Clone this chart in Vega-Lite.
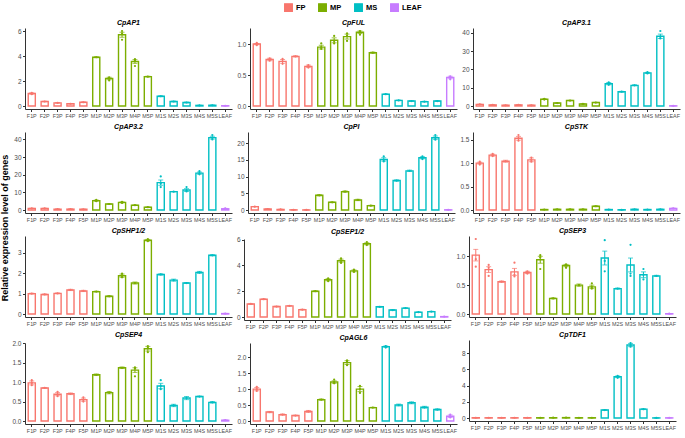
{
"$schema": "https://vega.github.io/schema/vega-lite/v6.json",
"background": "white",
"padding": {"left": 0, "top": 3, "right": 1, "bottom": 1},
"config": {
 "view": {"stroke": null},
 "font": "Liberation Sans",
 "axis": {"labelFontSize": 6.5, "labelColor": "#4d4d4d", "domainColor": "#333333", "tickColor": "#333333", "tickSize": 2.5, "grid": false, "title": null, "labelPadding": 1.5},
 "header": {"labelFontStyle": "italic", "labelFontWeight": "bold", "labelFontSize": 7, "labelPadding": 2, "labelColor": "black"}
},
"spacing": 1,
"hconcat": [
 {
  "data": {"values": [{"t": "Relative expression level of genes"}]},
  "width": 7, "height": 400,
  "mark": {"type": "text", "angle": 270, "fontSize": 9, "fontWeight": "bold", "color": "black"},
  "encoding": {"text": {"field": "t"}}
 },
 {
  "data": {"values": [
{"g":"CpAP1","s":"F1P","grp":"FP","m":1.0,"e":0.05,"p":[1.05,0.98,0.95]},
{"g":"CpAP1","s":"F2P","grp":"FP","m":0.36,"e":0.02,"p":[0.36]},
{"g":"CpAP1","s":"F3P","grp":"FP","m":0.25,"e":0.02,"p":[0.25]},
{"g":"CpAP1","s":"F4P","grp":"FP","m":0.18,"e":0.02,"p":[0.18]},
{"g":"CpAP1","s":"F5P","grp":"FP","m":0.3,"e":0.03,"p":[0.3]},
{"g":"CpAP1","s":"M1P","grp":"MP","m":3.9,"e":0.04,"p":[3.9]},
{"g":"CpAP1","s":"M2P","grp":"MP","m":2.2,"e":0.1,"p":[2.3,2.2,2.05]},
{"g":"CpAP1","s":"M3P","grp":"MP","m":5.7,"e":0.2,"p":[6.0,5.8,5.3]},
{"g":"CpAP1","s":"M4P","grp":"MP","m":3.56,"e":0.15,"p":[3.75,3.65,3.2]},
{"g":"CpAP1","s":"M5P","grp":"MP","m":2.35,"e":0.03,"p":[2.35]},
{"g":"CpAP1","s":"M1S","grp":"MS","m":0.78,"e":0.04,"p":[0.78]},
{"g":"CpAP1","s":"M2S","grp":"MS","m":0.36,"e":0.03,"p":[0.36]},
{"g":"CpAP1","s":"M3S","grp":"MS","m":0.28,"e":0.03,"p":[0.28]},
{"g":"CpAP1","s":"M4S","grp":"MS","m":0.05,"e":0.01,"p":[0.05]},
{"g":"CpAP1","s":"M5S","grp":"MS","m":0.06,"e":0.01,"p":[0.06]},
{"g":"CpAP1","s":"LEAF","grp":"LEAF","m":0.02,"e":0.01,"p":[0.02]},

{"g":"CpFUL","s":"F1P","grp":"FP","m":1.0,"e":0.01,"p":[1.02,1.0,0.98]},
{"g":"CpFUL","s":"F2P","grp":"FP","m":0.75,"e":0.02,"p":[0.77,0.75,0.73]},
{"g":"CpFUL","s":"F3P","grp":"FP","m":0.72,"e":0.03,"p":[0.76,0.72,0.68]},
{"g":"CpFUL","s":"F4P","grp":"FP","m":0.8,"e":0.01,"p":[0.8]},
{"g":"CpFUL","s":"F5P","grp":"FP","m":0.64,"e":0.02,"p":[0.66,0.64,0.62]},
{"g":"CpFUL","s":"M1P","grp":"MP","m":0.95,"e":0.03,"p":[1.01,0.95,0.92]},
{"g":"CpFUL","s":"M2P","grp":"MP","m":1.06,"e":0.04,"p":[1.13,1.05,1.01]},
{"g":"CpFUL","s":"M3P","grp":"MP","m":1.12,"e":0.04,"p":[1.17,1.13,1.05]},
{"g":"CpFUL","s":"M4P","grp":"MP","m":1.19,"e":0.02,"p":[1.21,1.2,1.15]},
{"g":"CpFUL","s":"M5P","grp":"MP","m":0.86,"e":0.01,"p":[0.86]},
{"g":"CpFUL","s":"M1S","grp":"MS","m":0.19,"e":0.005,"p":[0.19]},
{"g":"CpFUL","s":"M2S","grp":"MS","m":0.09,"e":0.005,"p":[0.09]},
{"g":"CpFUL","s":"M3S","grp":"MS","m":0.08,"e":0.005,"p":[0.08]},
{"g":"CpFUL","s":"M4S","grp":"MS","m":0.07,"e":0.005,"p":[0.07]},
{"g":"CpFUL","s":"M5S","grp":"MS","m":0.08,"e":0.005,"p":[0.08]},
{"g":"CpFUL","s":"LEAF","grp":"LEAF","m":0.46,"e":0.02,"p":[0.48,0.46,0.43]},

{"g":"CpAP3.1","s":"F1P","grp":"FP","m":0.9,"e":0.1,"p":[0.9]},
{"g":"CpAP3.1","s":"F2P","grp":"FP","m":0.6,"e":0.05,"p":[0.6]},
{"g":"CpAP3.1","s":"F3P","grp":"FP","m":0.4,"e":0.05,"p":[0.4]},
{"g":"CpAP3.1","s":"F4P","grp":"FP","m":0.6,"e":0.05,"p":[0.6]},
{"g":"CpAP3.1","s":"F5P","grp":"FP","m":0.4,"e":0.05,"p":[0.4]},
{"g":"CpAP3.1","s":"M1P","grp":"MP","m":3.7,"e":0.15,"p":[3.9,3.7,3.5]},
{"g":"CpAP3.1","s":"M2P","grp":"MP","m":1.6,"e":0.1,"p":[1.6]},
{"g":"CpAP3.1","s":"M3P","grp":"MP","m":3.0,"e":0.1,"p":[3.0]},
{"g":"CpAP3.1","s":"M4P","grp":"MP","m":1.1,"e":0.1,"p":[1.1]},
{"g":"CpAP3.1","s":"M5P","grp":"MP","m":1.9,"e":0.1,"p":[1.9]},
{"g":"CpAP3.1","s":"M1S","grp":"MS","m":12.2,"e":0.6,"p":[12.9,12.2,11.6]},
{"g":"CpAP3.1","s":"M2S","grp":"MS","m":7.8,"e":0.2,"p":[7.8]},
{"g":"CpAP3.1","s":"M3S","grp":"MS","m":11.3,"e":0.3,"p":[11.3]},
{"g":"CpAP3.1","s":"M4S","grp":"MS","m":18.1,"e":0.3,"p":[18.5,18.1,17.8]},
{"g":"CpAP3.1","s":"M5S","grp":"MS","m":38.1,"e":1.2,"p":[41.0,37.8,36.9]},
{"g":"CpAP3.1","s":"LEAF","grp":"LEAF","m":0.1,"e":0.02,"p":[0.1]},

{"g":"CpAP3.2","s":"F1P","grp":"FP","m":0.9,"e":0.1,"p":[0.9]},
{"g":"CpAP3.2","s":"F2P","grp":"FP","m":0.9,"e":0.1,"p":[0.9]},
{"g":"CpAP3.2","s":"F3P","grp":"FP","m":0.5,"e":0.05,"p":[0.5]},
{"g":"CpAP3.2","s":"F4P","grp":"FP","m":0.5,"e":0.05,"p":[0.5]},
{"g":"CpAP3.2","s":"F5P","grp":"FP","m":0.4,"e":0.05,"p":[0.4]},
{"g":"CpAP3.2","s":"M1P","grp":"MP","m":5.3,"e":0.3,"p":[5.7,5.3,5.0]},
{"g":"CpAP3.2","s":"M2P","grp":"MP","m":3.4,"e":0.1,"p":[3.4]},
{"g":"CpAP3.2","s":"M3P","grp":"MP","m":4.3,"e":0.3,"p":[4.6,4.3,4.0]},
{"g":"CpAP3.2","s":"M4P","grp":"MP","m":2.7,"e":0.15,"p":[2.7]},
{"g":"CpAP3.2","s":"M5P","grp":"MP","m":1.6,"e":0.1,"p":[1.6]},
{"g":"CpAP3.2","s":"M1S","grp":"MS","m":15.5,"e":1.5,"p":[19.0,15.0,13.0]},
{"g":"CpAP3.2","s":"M2S","grp":"MS","m":10.4,"e":0.1,"p":[10.4]},
{"g":"CpAP3.2","s":"M3S","grp":"MS","m":11.3,"e":0.8,"p":[13.0,11.0,10.5]},
{"g":"CpAP3.2","s":"M4S","grp":"MS","m":20.9,"e":0.6,"p":[22.0,20.8,20.2]},
{"g":"CpAP3.2","s":"M5S","grp":"MS","m":41.0,"e":0.8,"p":[42.5,40.9,40.0]},
{"g":"CpAP3.2","s":"LEAF","grp":"LEAF","m":0.7,"e":0.2,"p":[0.9,0.7,0.5]},

{"g":"CpPI","s":"F1P","grp":"FP","m":1.0,"e":0.05,"p":[1.0]},
{"g":"CpPI","s":"F2P","grp":"FP","m":0.3,"e":0.03,"p":[0.3]},
{"g":"CpPI","s":"F3P","grp":"FP","m":0.2,"e":0.02,"p":[0.2]},
{"g":"CpPI","s":"F4P","grp":"FP","m":0.05,"e":0.01,"p":[0.05]},
{"g":"CpPI","s":"F5P","grp":"FP","m":0.05,"e":0.01,"p":[0.05]},
{"g":"CpPI","s":"M1P","grp":"MP","m":4.4,"e":0.2,"p":[4.4]},
{"g":"CpPI","s":"M2P","grp":"MP","m":2.3,"e":0.1,"p":[2.3]},
{"g":"CpPI","s":"M3P","grp":"MP","m":5.5,"e":0.2,"p":[5.5]},
{"g":"CpPI","s":"M4P","grp":"MP","m":3.0,"e":0.2,"p":[3.0]},
{"g":"CpPI","s":"M5P","grp":"MP","m":1.3,"e":0.1,"p":[1.3]},
{"g":"CpPI","s":"M1S","grp":"MS","m":15.1,"e":0.5,"p":[16.0,15.0,14.5]},
{"g":"CpPI","s":"M2S","grp":"MS","m":8.8,"e":0.2,"p":[8.8]},
{"g":"CpPI","s":"M3S","grp":"MS","m":11.7,"e":0.2,"p":[11.7]},
{"g":"CpPI","s":"M4S","grp":"MS","m":15.6,"e":0.3,"p":[16.0,15.6,15.2]},
{"g":"CpPI","s":"M5S","grp":"MS","m":21.6,"e":0.5,"p":[22.4,21.6,21.0]},
{"g":"CpPI","s":"LEAF","grp":"LEAF","m":0.05,"e":0.01,"p":[0.05]},

{"g":"CpSTK","s":"F1P","grp":"FP","m":1.0,"e":0.02,"p":[1.03,1.0,0.97]},
{"g":"CpSTK","s":"F2P","grp":"FP","m":1.17,"e":0.02,"p":[1.2,1.17,1.15]},
{"g":"CpSTK","s":"F3P","grp":"FP","m":1.04,"e":0.02,"p":[1.04]},
{"g":"CpSTK","s":"F4P","grp":"FP","m":1.53,"e":0.04,"p":[1.6,1.53,1.48]},
{"g":"CpSTK","s":"F5P","grp":"FP","m":1.07,"e":0.04,"p":[1.12,1.07,1.03]},
{"g":"CpSTK","s":"M1P","grp":"MP","m":0.01,"e":0.003,"p":[0.01]},
{"g":"CpSTK","s":"M2P","grp":"MP","m":0.015,"e":0.003,"p":[0.015]},
{"g":"CpSTK","s":"M3P","grp":"MP","m":0.015,"e":0.003,"p":[0.015]},
{"g":"CpSTK","s":"M4P","grp":"MP","m":0.015,"e":0.003,"p":[0.015]},
{"g":"CpSTK","s":"M5P","grp":"MP","m":0.08,"e":0.01,"p":[0.08]},
{"g":"CpSTK","s":"M1S","grp":"MS","m":0.01,"e":0.003,"p":[0.01]},
{"g":"CpSTK","s":"M2S","grp":"MS","m":0.005,"e":0.002,"p":[0.005]},
{"g":"CpSTK","s":"M3S","grp":"MS","m":0.015,"e":0.003,"p":[0.015]},
{"g":"CpSTK","s":"M4S","grp":"MS","m":0.01,"e":0.003,"p":[0.01]},
{"g":"CpSTK","s":"M5S","grp":"MS","m":0.015,"e":0.003,"p":[0.015]},
{"g":"CpSTK","s":"LEAF","grp":"LEAF","m":0.035,"e":0.005,"p":[0.035]},

{"g":"CpSHP1/2","s":"F1P","grp":"FP","m":1.0,"e":0.02,"p":[1.0]},
{"g":"CpSHP1/2","s":"F2P","grp":"FP","m":0.96,"e":0.02,"p":[0.96]},
{"g":"CpSHP1/2","s":"F3P","grp":"FP","m":1.01,"e":0.02,"p":[1.01]},
{"g":"CpSHP1/2","s":"F4P","grp":"FP","m":1.18,"e":0.03,"p":[1.18]},
{"g":"CpSHP1/2","s":"F5P","grp":"FP","m":1.13,"e":0.03,"p":[1.13]},
{"g":"CpSHP1/2","s":"M1P","grp":"MP","m":1.1,"e":0.02,"p":[1.1]},
{"g":"CpSHP1/2","s":"M2P","grp":"MP","m":0.87,"e":0.03,"p":[0.87]},
{"g":"CpSHP1/2","s":"M3P","grp":"MP","m":1.88,"e":0.08,"p":[1.98,1.88,1.8]},
{"g":"CpSHP1/2","s":"M4P","grp":"MP","m":1.52,"e":0.05,"p":[1.52]},
{"g":"CpSHP1/2","s":"M5P","grp":"MP","m":3.62,"e":0.04,"p":[3.68,3.62,3.57]},
{"g":"CpSHP1/2","s":"M1S","grp":"MS","m":1.94,"e":0.03,"p":[1.94]},
{"g":"CpSHP1/2","s":"M2S","grp":"MS","m":1.66,"e":0.05,"p":[1.66]},
{"g":"CpSHP1/2","s":"M3S","grp":"MS","m":1.52,"e":0.02,"p":[1.52]},
{"g":"CpSHP1/2","s":"M4S","grp":"MS","m":2.04,"e":0.05,"p":[2.04]},
{"g":"CpSHP1/2","s":"M5S","grp":"MS","m":2.88,"e":0.03,"p":[2.88]},
{"g":"CpSHP1/2","s":"LEAF","grp":"LEAF","m":0.02,"e":0.01,"p":[0.02]},

{"g":"CpSEP1/2","s":"F1P","grp":"FP","m":1.01,"e":0.04,"p":[1.01]},
{"g":"CpSEP1/2","s":"F2P","grp":"FP","m":1.38,"e":0.03,"p":[1.38]},
{"g":"CpSEP1/2","s":"F3P","grp":"FP","m":0.81,"e":0.03,"p":[0.81]},
{"g":"CpSEP1/2","s":"F4P","grp":"FP","m":0.86,"e":0.03,"p":[0.86]},
{"g":"CpSEP1/2","s":"F5P","grp":"FP","m":0.57,"e":0.03,"p":[0.57]},
{"g":"CpSEP1/2","s":"M1P","grp":"MP","m":2.0,"e":0.04,"p":[2.0]},
{"g":"CpSEP1/2","s":"M2P","grp":"MP","m":2.89,"e":0.08,"p":[3.0,2.9,2.78]},
{"g":"CpSEP1/2","s":"M3P","grp":"MP","m":4.37,"e":0.12,"p":[4.55,4.37,4.2]},
{"g":"CpSEP1/2","s":"M4P","grp":"MP","m":3.58,"e":0.07,"p":[3.68,3.58,3.5]},
{"g":"CpSEP1/2","s":"M5P","grp":"MP","m":5.68,"e":0.08,"p":[5.82,5.68,5.58]},
{"g":"CpSEP1/2","s":"M1S","grp":"MS","m":0.79,"e":0.03,"p":[0.79]},
{"g":"CpSEP1/2","s":"M2S","grp":"MS","m":0.54,"e":0.04,"p":[0.54]},
{"g":"CpSEP1/2","s":"M3S","grp":"MS","m":0.69,"e":0.03,"p":[0.69]},
{"g":"CpSEP1/2","s":"M4S","grp":"MS","m":0.37,"e":0.02,"p":[0.37]},
{"g":"CpSEP1/2","s":"M5S","grp":"MS","m":0.42,"e":0.02,"p":[0.42]},
{"g":"CpSEP1/2","s":"LEAF","grp":"LEAF","m":0.03,"e":0.01,"p":[0.03]},

{"g":"CpSEP3","s":"F1P","grp":"FP","m":1.02,"e":0.1,"p":[1.3,0.95,0.82]},
{"g":"CpSEP3","s":"F2P","grp":"FP","m":0.77,"e":0.05,"p":[0.85,0.8,0.66]},
{"g":"CpSEP3","s":"F3P","grp":"FP","m":0.56,"e":0.01,"p":[0.56]},
{"g":"CpSEP3","s":"F4P","grp":"FP","m":0.73,"e":0.06,"p":[0.89,0.68,0.65]},
{"g":"CpSEP3","s":"F5P","grp":"FP","m":0.72,"e":0.02,"p":[0.74,0.72,0.7]},
{"g":"CpSEP3","s":"M1P","grp":"MP","m":0.94,"e":0.06,"p":[1.02,0.98,0.78]},
{"g":"CpSEP3","s":"M2P","grp":"MP","m":0.27,"e":0.01,"p":[0.27]},
{"g":"CpSEP3","s":"M3P","grp":"MP","m":0.84,"e":0.02,"p":[0.86,0.84,0.8]},
{"g":"CpSEP3","s":"M4P","grp":"MP","m":0.5,"e":0.02,"p":[0.5]},
{"g":"CpSEP3","s":"M5P","grp":"MP","m":0.47,"e":0.03,"p":[0.53,0.47,0.44]},
{"g":"CpSEP3","s":"M1S","grp":"MS","m":0.97,"e":0.12,"p":[1.28,0.92,0.74]},
{"g":"CpSEP3","s":"M2S","grp":"MS","m":0.44,"e":0.01,"p":[0.44]},
{"g":"CpSEP3","s":"M3S","grp":"MS","m":0.85,"e":0.12,"p":[1.2,0.7,0.66]},
{"g":"CpSEP3","s":"M4S","grp":"MS","m":0.68,"e":0.05,"p":[0.78,0.68,0.6]},
{"g":"CpSEP3","s":"M5S","grp":"MS","m":0.66,"e":0.01,"p":[0.66]},
{"g":"CpSEP3","s":"LEAF","grp":"LEAF","m":0.005,"e":0.002,"p":[0.005]},

{"g":"CpSEP4","s":"F1P","grp":"FP","m":0.98,"e":0.05,"p":[1.05,0.98,0.92]},
{"g":"CpSEP4","s":"F2P","grp":"FP","m":0.85,"e":0.01,"p":[0.85]},
{"g":"CpSEP4","s":"F3P","grp":"FP","m":0.69,"e":0.04,"p":[0.75,0.68,0.64]},
{"g":"CpSEP4","s":"F4P","grp":"FP","m":0.7,"e":0.02,"p":[0.7]},
{"g":"CpSEP4","s":"F5P","grp":"FP","m":0.55,"e":0.04,"p":[0.61,0.55,0.5]},
{"g":"CpSEP4","s":"M1P","grp":"MP","m":1.19,"e":0.02,"p":[1.19]},
{"g":"CpSEP4","s":"M2P","grp":"MP","m":0.73,"e":0.03,"p":[0.73]},
{"g":"CpSEP4","s":"M3P","grp":"MP","m":1.37,"e":0.02,"p":[1.37]},
{"g":"CpSEP4","s":"M4P","grp":"MP","m":1.31,"e":0.06,"p":[1.38,1.35,1.15]},
{"g":"CpSEP4","s":"M5P","grp":"MP","m":1.86,"e":0.06,"p":[1.93,1.88,1.77]},
{"g":"CpSEP4","s":"M1S","grp":"MS","m":0.9,"e":0.07,"p":[1.05,0.9,0.82]},
{"g":"CpSEP4","s":"M2S","grp":"MS","m":0.4,"e":0.03,"p":[0.4]},
{"g":"CpSEP4","s":"M3S","grp":"MS","m":0.59,"e":0.04,"p":[0.59]},
{"g":"CpSEP4","s":"M4S","grp":"MS","m":0.63,"e":0.01,"p":[0.63]},
{"g":"CpSEP4","s":"M5S","grp":"MS","m":0.48,"e":0.02,"p":[0.48]},
{"g":"CpSEP4","s":"LEAF","grp":"LEAF","m":0.02,"e":0.01,"p":[0.02]},

{"g":"CpAGL6","s":"F1P","grp":"FP","m":1.0,"e":0.05,"p":[1.07,1.0,0.94]},
{"g":"CpAGL6","s":"F2P","grp":"FP","m":0.28,"e":0.02,"p":[0.28]},
{"g":"CpAGL6","s":"F3P","grp":"FP","m":0.2,"e":0.02,"p":[0.2]},
{"g":"CpAGL6","s":"F4P","grp":"FP","m":0.17,"e":0.01,"p":[0.17]},
{"g":"CpAGL6","s":"F5P","grp":"FP","m":0.3,"e":0.03,"p":[0.3]},
{"g":"CpAGL6","s":"M1P","grp":"MP","m":0.67,"e":0.02,"p":[0.67]},
{"g":"CpAGL6","s":"M2P","grp":"MP","m":1.22,"e":0.04,"p":[1.3,1.22,1.18]},
{"g":"CpAGL6","s":"M3P","grp":"MP","m":1.83,"e":0.06,"p":[1.9,1.85,1.75]},
{"g":"CpAGL6","s":"M4P","grp":"MP","m":1.0,"e":0.08,"p":[1.1,1.0,0.88]},
{"g":"CpAGL6","s":"M5P","grp":"MP","m":0.42,"e":0.01,"p":[0.42]},
{"g":"CpAGL6","s":"M1S","grp":"MS","m":2.33,"e":0.02,"p":[2.35,2.33,2.3]},
{"g":"CpAGL6","s":"M2S","grp":"MS","m":0.5,"e":0.03,"p":[0.5]},
{"g":"CpAGL6","s":"M3S","grp":"MS","m":0.57,"e":0.03,"p":[0.57]},
{"g":"CpAGL6","s":"M4S","grp":"MS","m":0.43,"e":0.03,"p":[0.43]},
{"g":"CpAGL6","s":"M5S","grp":"MS","m":0.36,"e":0.02,"p":[0.36]},
{"g":"CpAGL6","s":"LEAF","grp":"LEAF","m":0.15,"e":0.04,"p":[0.2,0.15,0.11]},

{"g":"CpTDF1","s":"F1P","grp":"FP","m":0.03,"e":0.005,"p":[0.03]},
{"g":"CpTDF1","s":"F2P","grp":"FP","m":0.03,"e":0.005,"p":[0.03]},
{"g":"CpTDF1","s":"F3P","grp":"FP","m":0.03,"e":0.005,"p":[0.03]},
{"g":"CpTDF1","s":"F4P","grp":"FP","m":0.03,"e":0.005,"p":[0.03]},
{"g":"CpTDF1","s":"F5P","grp":"FP","m":0.03,"e":0.005,"p":[0.03]},
{"g":"CpTDF1","s":"M1P","grp":"MP","m":0.03,"e":0.005,"p":[0.03]},
{"g":"CpTDF1","s":"M2P","grp":"MP","m":0.04,"e":0.005,"p":[0.04]},
{"g":"CpTDF1","s":"M3P","grp":"MP","m":0.05,"e":0.005,"p":[0.05]},
{"g":"CpTDF1","s":"M4P","grp":"MP","m":0.03,"e":0.005,"p":[0.03]},
{"g":"CpTDF1","s":"M5P","grp":"MP","m":0.03,"e":0.005,"p":[0.03]},
{"g":"CpTDF1","s":"M1S","grp":"MS","m":0.98,"e":0.05,"p":[0.98]},
{"g":"CpTDF1","s":"M2S","grp":"MS","m":5.08,"e":0.1,"p":[5.2,5.08,4.95]},
{"g":"CpTDF1","s":"M3S","grp":"MS","m":9.0,"e":0.2,"p":[9.25,9.0,8.8]},
{"g":"CpTDF1","s":"M4S","grp":"MS","m":1.09,"e":0.05,"p":[1.09]},
{"g":"CpTDF1","s":"M5S","grp":"MS","m":0.01,"e":0.005,"p":[0.01]},
{"g":"CpTDF1","s":"LEAF","grp":"LEAF","m":0.02,"e":0.005,"p":[0.02]}
  ]},
  "facet": {"field": "g", "type": "nominal", "title": null,
   "sort": ["CpAP1","CpFUL","CpAP3.1","CpAP3.2","CpPI","CpSTK","CpSHP1/2","CpSEP1/2","CpSEP3","CpSEP4","CpAGL6","CpTDF1"]},
  "columns": 3,
  "spacing": {"row": 4, "column": 4},
  "resolve": {"scale": {"y": "independent"}, "axis": {"x": "independent", "y": "independent"}},
  "spec": {
   "width": 207, "height": 81,
   "encoding": {
    "x": {"field": "s", "type": "nominal", "sort": ["F1P","F2P","F3P","F4P","F5P","M1P","M2P","M3P","M4P","M5P","M1S","M2S","M3S","M4S","M5S","LEAF"],
          "scale": {"paddingInner": 0.45, "paddingOuter": 0.25}, "axis": {"labelAngle": 0, "title": null, "labelFontSize": 5.4, "labelPadding": 1.5}},
    "color": {"field": "grp", "type": "nominal",
      "scale": {"domain": ["FP","MP","MS","LEAF"], "range": ["#F8766D","#7CAE00","#00BFC4","#C77CFF"]},
      "legend": {"orient": "none", "legendX": 283, "legendY": -25, "direction": "horizontal", "title": null,
                 "labelFontSize": 7.5, "labelFontWeight": "bold", "symbolType": "square", "symbolSize": 60,
                 "symbolStrokeWidth": 1.2, "symbolFillColor": "white", "columnPadding": 10, "labelOffset": 3}}
   },
   "layer": [
    {"mark": {"type": "bar", "filled": false, "strokeWidth": 1.4},
     "encoding": {"y": {"field": "m", "type": "quantitative", "scale": {"zero": true, "nice": false, "padding": 3},
                        "axis": {"title": null, "tickCount": 4}}}},
    {"mark": {"type": "errorbar", "ticks": {"size": 5}, "thickness": 1},
     "encoding": {"y": {"field": "m", "type": "quantitative"}, "yError": {"field": "e"}}},
    {"transform": [{"flatten": ["p"], "as": ["pv"]}],
     "mark": {"type": "point", "filled": true, "size": 5, "opacity": 1},
     "encoding": {"y": {"field": "pv", "type": "quantitative"}}}
   ]
  }
 }
]
}
